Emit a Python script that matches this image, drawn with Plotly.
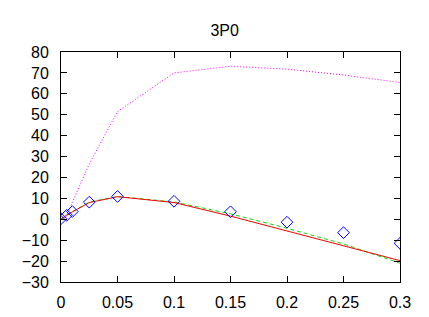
import plotly.graph_objects as go

x_vals = [0, 0.005, 0.01, 0.025, 0.05, 0.1, 0.15, 0.2, 0.25, 0.3]
magenta_vals = [0, 1.5, 8, 26.5, 51.5, 70, 73.2, 71.8, 69, 65.4]
green_vals = [0, 2, 3.6, 8.2, 10.9, 8.3, 2.6, -4.3, -11.8, -21]
red_vals = [0, 2, 3.5, 8.0, 10.8, 8.0, 1.5, -5.5, -12.8, -19.8]
diamond_x = [0, 0.005, 0.01, 0.025, 0.05, 0.1, 0.15, 0.2, 0.25, 0.3]
diamond_vals = [0.3, 1.9, 3.7, 8.2, 10.9, 8.6, 3.6, -1.4, -6.4, -11.5]
x_ticks = [0, 0.05, 0.1, 0.15, 0.2, 0.25, 0.3]
x_tick_text = ["0", "0.05", "0.1", "0.15", "0.2", "0.25", "0.3"]
y_ticks = [-30, -20, -10, 0, 10, 20, 30, 40, 50, 60, 70, 80]

fig = go.Figure()
fig.add_trace(go.Scatter(x=x_vals, y=magenta_vals, mode="lines",
                         line=dict(color="#ff00ff", width=1, dash="1px,2px")))
fig.add_trace(go.Scatter(x=x_vals, y=green_vals, mode="lines",
                         line=dict(color="#00e000", width=1, dash="4px,3px")))
fig.add_trace(go.Scatter(x=x_vals, y=red_vals, mode="lines",
                         line=dict(color="#ff0000", width=1)))
fig.add_trace(go.Scatter(x=diamond_x, y=diamond_vals, mode="markers",
                         marker=dict(symbol="diamond-open", size=9,
                                     color="#0000ff",
                                     line=dict(width=1, color="#0000ff"))))

fig.update_layout(
    width=429, height=317,
    margin=dict(l=53, r=37, t=44, b=43),
    paper_bgcolor="white", plot_bgcolor="white",
    showlegend=False,
    font=dict(family="Liberation Sans, Arial, sans-serif", size=16, color="black"),
    title=dict(text="3P0", x=0.505, xanchor="center", y=0.93, yanchor="middle",
               font=dict(size=16)),
)
fig.update_xaxes(range=[0, 0.3], tickvals=x_ticks, ticktext=x_tick_text,
                 ticks="inside", ticklen=6, tickcolor="black", mirror="ticks",
                 showline=True, linecolor="black", linewidth=1,
                 showgrid=False, zeroline=False, ticklabelstandoff=6)
fig.update_yaxes(range=[-30, 80], tickvals=y_ticks,
                 ticks="inside", ticklen=6, tickcolor="black", mirror="ticks",
                 showline=True, linecolor="black", linewidth=1,
                 showgrid=False, zeroline=False, ticklabelstandoff=8)

fig.write_html("out.html")
